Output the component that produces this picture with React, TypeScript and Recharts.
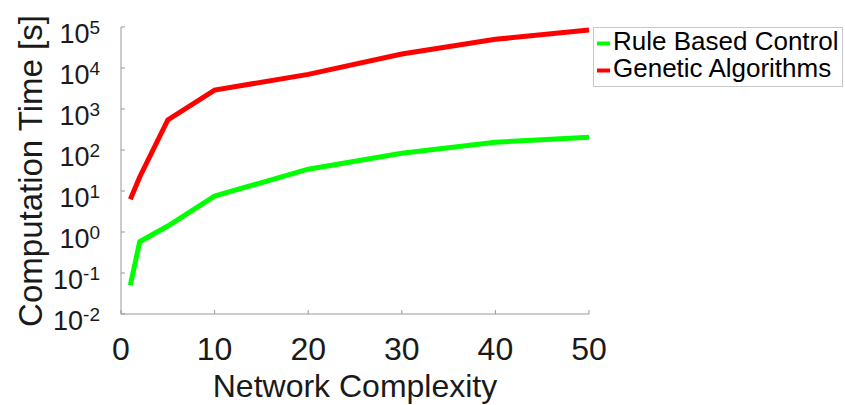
import React from 'react';
import { LineChart, Line, XAxis, YAxis, Legend } from 'recharts';

const complexity = [1, 2, 5, 10, 20, 30, 40, 50];
const ruleBased = [0.05, 0.58, 1.4, 7.5, 34, 83, 155, 205];
const genetic = [6.3, 22, 540, 2900, 7000, 22000, 50000, 85000];

const xTicks = [0, 10, 20, 30, 40, 50];
const yExponents = [-2, -1, 0, 1, 2, 3, 4, 5];
const yTicks = yExponents.map((e) => Math.pow(10, e));

const seriesNames = ['Rule Based Control', 'Genetic Algorithms'];
const seriesColors = ['#00ff00', '#ff0000'];

const data = complexity.map((c, i) => ({ c, rule: ruleBased[i], ga: genetic[i] }));

const FONT = '"Liberation Sans", Arial, Helvetica, sans-serif';
const AXIS = '#999999';
const INK = '#1a1a1a';

const XTick = (props: any) => {
  const { x, y, payload } = props;
  return (
    <g>
      <line x1={x} x2={x} y1={y} y2={y - 4} stroke={AXIS} strokeWidth={1} />
      <text x={x} y={y + 46} textAnchor="middle" fontSize={32} fontFamily={FONT} fill={INK}>
        {payload.value}
      </text>
    </g>
  );
};

const YTick = (props: any) => {
  const { x, y, payload } = props;
  const exp = Math.round(Math.log10(payload.value));
  return (
    <g>
      <line x1={x} x2={x + 4} y1={y} y2={y} stroke={AXIS} strokeWidth={1} />
      <text x={x - 21} y={y + 16} textAnchor="end" fontFamily={FONT} fill={INK}>
        <tspan fontSize={27}>10</tspan>
        <tspan fontSize={19} dy={-9}>{exp}</tspan>
      </text>
    </g>
  );
};

const LegendBox = () => (
  <svg width={250} height={60} style={{ display: 'block' }}>
    <rect x={0.5} y={0.5} width={249} height={59} fill="#fff" stroke="#c8c8c8" />
    {seriesNames.map((name, i) => (
      <g key={name}>
        <line x1={4} x2={17} y1={16.5 + i * 27} y2={16.5 + i * 27} stroke={seriesColors[i]} strokeWidth={4} />
        <text x={20} y={23 + i * 27} fontSize={26} fontFamily={FONT} fill="#000">
          {name}
        </text>
      </g>
    ))}
  </svg>
);

export default function App() {
  return (
    <div style={{ position: 'absolute', left: 0, top: 0, background: '#fff' }}>
      <LineChart width={845} height={405} data={data} margin={{ top: 27, right: 256, bottom: 61, left: 61 }}>
        <XAxis
          dataKey="c"
          type="number"
          domain={[0, 50]}
          ticks={xTicks}
          height={30}
          tickSize={0}
          tickMargin={0}
          tickLine={false}
          axisLine={{ stroke: AXIS, strokeWidth: 1 }}
          tick={<XTick />}
          label={{
            content: () => (
              <text x={355} y={397} textAnchor="middle" fontSize={32} fontFamily={FONT} fill={INK}>
                Network Complexity
              </text>
            ),
          }}
        />
        <YAxis
          scale="log"
          domain={[0.01, 100000]}
          ticks={yTicks}
          allowDataOverflow
          width={60}
          tickSize={0}
          tickMargin={0}
          tickLine={false}
          axisLine={{ stroke: AXIS, strokeWidth: 1 }}
          tick={<YTick />}
          interval={0}
          label={{
            content: () => (
              <text
                x={42}
                y={171}
                transform="rotate(-90 42 171)"
                textAnchor="middle"
                fontSize={33}
                fontFamily={FONT}
                fill={INK}
              >
                Computation Time [s]
              </text>
            ),
          }}
        />
        <Legend
          layout="vertical"
          align="center"
          verticalAlign="middle"
          content={() => <LegendBox />}
          wrapperStyle={{ position: 'absolute', left: 593, top: 27, width: 250, height: 60 }}
        />
        <Line
          type="linear"
          dataKey="rule"
          name={seriesNames[0]}
          stroke={seriesColors[0]}
          strokeWidth={5}
          dot={false}
          isAnimationActive={false}
        />
        <Line
          type="linear"
          dataKey="ga"
          name={seriesNames[1]}
          stroke={seriesColors[1]}
          strokeWidth={5}
          dot={false}
          isAnimationActive={false}
        />
      </LineChart>
    </div>
  );
}
